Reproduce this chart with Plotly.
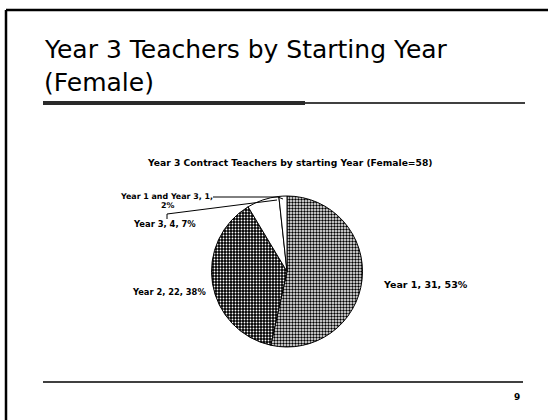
import plotly.graph_objects as go

# Data
categories = ["Year 1", "Year 2", "Year 3", "Year 1 and Year 3"]
counts = [31, 22, 4, 1]
percents = ["53%", "38%", "7%", "2%"]

slide_title_lines = ["Year 3 Teachers by Starting Year", "(Female)"]
chart_title = "Year 3 Contract Teachers by starting Year (Female=58)"
page_number = "9"

W, H = 550, 420


def px(x):
    return x / W


def py(y):
    return 1 - y / H


fig = go.Figure()
fig.add_trace(go.Pie(
    labels=categories,
    values=counts,
    sort=False,
    direction="clockwise",
    rotation=0,
    textinfo="none",
    hoverinfo="label+value+percent",
    showlegend=False,
    domain=dict(x=[px(211), px(363)], y=[py(347), py(196)]),
    marker=dict(
        colors=["#a8a8a8", "#3c3c3c", "#ffffff", "#ffffff"],
        line=dict(color="#000000", width=1),
        pattern=dict(
            shape=[".", ".", "", ""],
            fgcolor=["#000000", "#ffffff", "#000000", "#000000"],
            bgcolor=["#ffffff", "#000000", "#ffffff", "#ffffff"],
            size=3,
            solidity=[0.5, 0.3, 0.3, 0.3],
            fillmode="replace",
        ),
    ),
))


def lfont(size):
    return dict(family="DejaVu Sans", size=size, color="#000000")


def lab(i):
    return f"<b>{categories[i]}, {counts[i]}, {percents[i]}</b>"


annotations = [
    dict(text=slide_title_lines[0], x=px(42), y=py(49), xanchor="left", yanchor="middle",
         font=dict(family="DejaVu Sans", size=25, color="#000")),
    dict(text=slide_title_lines[1], x=px(42), y=py(83), xanchor="left", yanchor="middle",
         font=dict(family="DejaVu Sans", size=25, color="#000")),
    dict(text=f"<b>{chart_title}</b>", x=px(290), y=py(163), xanchor="center", yanchor="middle",
         font=dict(family="DejaVu Sans", size=9.2, color="#000")),
    dict(text=lab(0), x=px(381), y=py(284), xanchor="left", yanchor="middle", font=lfont(9.5)),
    dict(text=lab(1), x=px(208), y=py(292), xanchor="right", yanchor="middle", font=lfont(8.3)),
    dict(text=lab(2), x=px(164), y=py(224), xanchor="center", yanchor="middle", font=lfont(8.4)),
    dict(text=f"<b>{categories[3]}, {counts[3]},</b>", x=px(166), y=py(196), xanchor="center",
         yanchor="middle", font=lfont(7.9)),
    dict(text=f"<b>{percents[3]}</b>", x=px(167), y=py(205), xanchor="center",
         yanchor="middle", font=lfont(7.9)),
    dict(text=f"<b>{page_number}</b>", x=px(517), y=py(397), xanchor="center", yanchor="middle",
         font=dict(family="DejaVu Sans", size=9, color="#000")),
]
for a in annotations:
    a.update(xref="paper", yref="paper", showarrow=False)

shapes = [
    # slide border
    dict(type="line", x0=px(6), x1=px(548), y0=py(10), y1=py(10), line=dict(color="#000", width=2.5)),
    dict(type="line", x0=px(6), x1=px(6), y0=py(10), y1=py(420), line=dict(color="#000", width=2.5)),
    # title underline
    dict(type="rect", x0=px(43), x1=px(305), y0=py(101), y1=py(105), fillcolor="#2a2a2a",
         line=dict(width=0)),
    dict(type="line", x0=px(305), x1=px(525), y0=py(103), y1=py(103), line=dict(color="#000", width=1.5)),
    # footer line
    dict(type="line", x0=px(43), x1=px(523), y0=py(382), y1=py(382), line=dict(color="#000", width=1.5)),
    # leader lines
    dict(type="path", path=f"M {px(213)},{py(197)} L {px(278)},{py(197)} L {px(283)},{py(199)}",
         line=dict(color="#000", width=1)),
    dict(type="path", path=f"M {px(167)},{py(219)} L {px(167)},{py(214)} L {px(277)},{py(200)}",
         line=dict(color="#000", width=1)),
]
for s in shapes:
    s.update(xref="paper", yref="paper")

fig.update_layout(
    width=W, height=H,
    margin=dict(l=0, r=0, t=0, b=0),
    paper_bgcolor="#ffffff",
    plot_bgcolor="#ffffff",
    annotations=annotations,
    shapes=shapes,
)

fig.write_html(
    "out.html",
    config={"displayModeBar": False},
    post_script="document.body.style.margin='0';document.body.style.overflow='hidden';",
)
